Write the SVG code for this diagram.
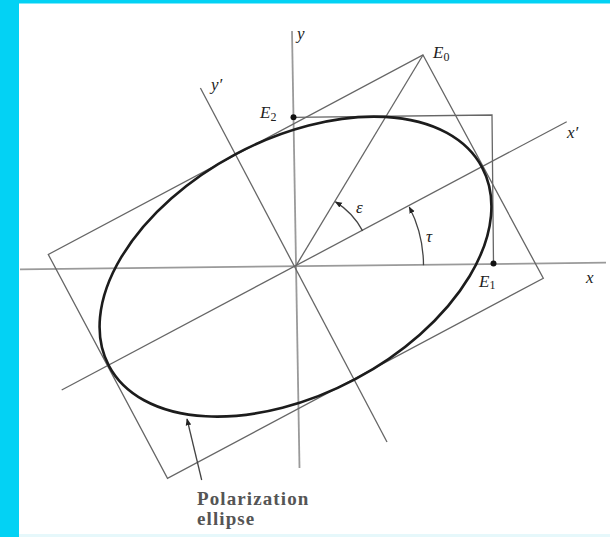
<svg xmlns="http://www.w3.org/2000/svg" width="610" height="537" viewBox="0 0 610 537">
  <defs>
    <marker id="arr" viewBox="0 0 10 10" refX="9" refY="5" markerWidth="7" markerHeight="7" markerUnits="userSpaceOnUse" orient="auto">
      <path d="M0,1 L10,5 L0,9 Z" fill="#222"/>
    </marker>
    <style>
      .thin { stroke: #666; stroke-width: 1.3; fill: none; }
      .axis { stroke: #9a9a9a; stroke-width: 1.8; fill: none; }
      .ell { stroke: #1c1c1c; stroke-width: 2.6; fill: none; }
      .lbl { font-family: "Liberation Serif", "Times New Roman", serif; font-style: italic; font-size: 17px; fill: #222; }
      .sub { font-style: normal; font-size: 12px; }
      .cap { font-family: "Liberation Serif", "Times New Roman", serif; font-weight: bold; font-size: 19px; letter-spacing: 1.1px; fill: #555; }
    </style>
  </defs>
  <rect x="0" y="0" width="610" height="537" fill="#03D2F4"/>
  <rect x="19" y="3.5" width="591" height="533.5" fill="#ffffff"/>
  <rect x="19" y="534" width="591" height="3" fill="#e6f8fb"/>

  <g id="connectors">
    <g id="axes">
      <line class="axis" x1="20" y1="269.3" x2="606" y2="262.7"/>
      <line class="axis" x1="292" y1="31" x2="299.5" y2="468"/>
    </g>
    <g id="rotated-axes">
      <line class="thin" x1="61.7" y1="390" x2="566.7" y2="121.7"/>
      <line class="thin" x1="200.4" y1="88" x2="387" y2="442"/>
    </g>
    <g id="rotated-rectangle">
      <polygon class="thin" points="423,55 543.3,278.3 167.5,478.3 48.3,254.5"/>
    </g>
    <g id="bounding-box">
      <polyline class="thin" points="293.5,117.3 492,115 493.5,263.5"/>
    </g>
    <g id="e0-line">
      <line class="thin" x1="423" y1="55" x2="295.5" y2="266.6"/>
    </g>
    <g id="angle-eps">
      <path d="M362.6,230.9 A76,76 0 0 0 335.5,201.9" stroke="#444" stroke-width="1.3" fill="none" marker-end="url(#arr)"/>
    </g>
    <g id="angle-tau">
      <path d="M423.5,265.2 A128,128 0 0 0 409.3,207" stroke="#444" stroke-width="1.3" fill="none" marker-end="url(#arr)"/>
    </g>
    <g id="pointer">
      <line x1="201.7" y1="480" x2="187" y2="419" stroke="#444" stroke-width="1.3" marker-end="url(#arr)"/>
    </g>
  </g>

  <g id="ellipse">
    <ellipse class="ell" cx="295.5" cy="266.6" rx="211.3" ry="127.4" transform="rotate(-28 295.5 266.6)"/>
  </g>

  <g id="points">
    <circle id="E2-dot" cx="293.5" cy="117.3" r="3" fill="#111"/>
    <circle id="E1-dot" cx="493.5" cy="263.5" r="3" fill="#111"/>
  </g>

  <g id="labels">
    <text class="lbl" x="297" y="39">y</text>
    <text class="lbl" x="211" y="90">y′</text>
    <text class="lbl" x="433" y="58">E<tspan class="sub" dy="3">0</tspan></text>
    <text class="lbl" x="260" y="118">E<tspan class="sub" dy="3">2</tspan></text>
    <text class="lbl" x="567" y="138">x′</text>
    <text class="lbl" x="586" y="283">x</text>
    <text class="lbl" x="479" y="287">E<tspan class="sub" dy="2">1</tspan></text>
    <text class="lbl" x="356" y="213" font-size="15">ε</text>
    <text class="lbl" x="426" y="242" font-size="15">τ</text>
    <text class="cap" x="197" y="505">Polarization</text>
    <text class="cap" x="197" y="525">ellipse</text>
  </g>
</svg>
